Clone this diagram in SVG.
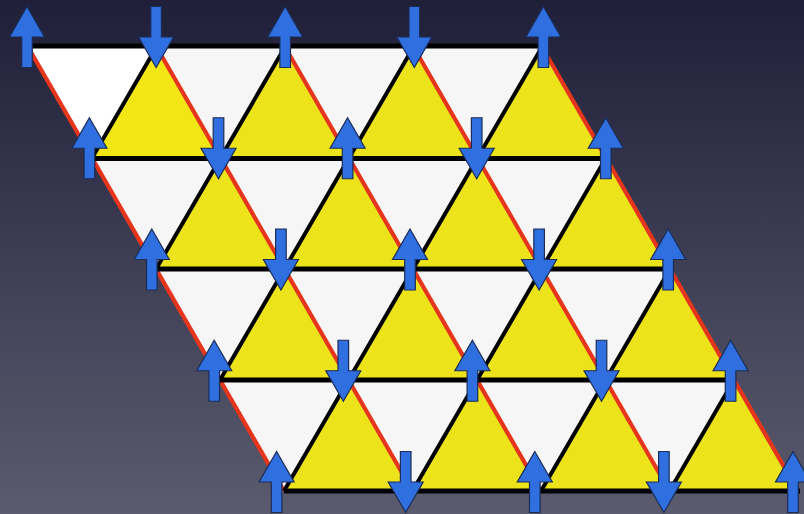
<svg xmlns="http://www.w3.org/2000/svg" width="804" height="514" viewBox="0 0 804 514">
<defs>
<linearGradient id="bg" x1="0" y1="0" x2="0" y2="1">
<stop offset="0" stop-color="#1f1f39"/>
<stop offset="1" stop-color="#5b5b6f"/>
</linearGradient>
<path id="up" d="M0,-30.5 L17.5,0 L5.3,0 L5.3,30.5 L-5.3,30.5 L-5.3,0 L-17.5,0 Z"/>
<style>
.yel{fill:#ede31a}
.red{stroke:#e5351d;stroke-width:4.2;fill:none}
.blk{stroke:#000;stroke-width:4;fill:none}
.hor{stroke:#000;stroke-width:4.8;fill:none}
.arr{fill:#2f6fe0;stroke:#1b2d58;stroke-width:1.2}
</style>
</defs>
<rect id="background" width="804" height="514" fill="url(#bg)"/>
<g id="lattice">
<polygon points="28,47 542,47 798,491 284,491" fill="#f6f6f6"/>
<polygon points="28,47 156.5,47 92,158" fill="#ffffff"/>
<g id="up-triangles" class="yel">
<polygon points="156.5,47 92,158 220.5,158" fill="#f2e615"/>
<polygon points="285,47 220.5,158 349,158"/>
<polygon points="413.5,47 349,158 477.5,158"/>
<polygon points="542,47 477.5,158 606,158"/>
<polygon points="220.5,158 156,269 284.5,269"/>
<polygon points="349,158 284.5,269 413,269"/>
<polygon points="477.5,158 413,269 541.5,269"/>
<polygon points="606,158 541.5,269 670,269"/>
<polygon points="284.5,269 220,380 348.5,380"/>
<polygon points="413,269 348.5,380 477,380"/>
<polygon points="541.5,269 477,380 605.5,380"/>
<polygon points="670,269 605.5,380 734,380"/>
<polygon points="348.5,380 284,491 412.5,491"/>
<polygon points="477,380 412.5,491 541,491"/>
<polygon points="605.5,380 541,491 669.5,491"/>
<polygon points="734,380 669.5,491 798,491"/>
</g>
</g>
<g id="connectors">
<g class="red">
<line x1="28" y1="47" x2="284" y2="491"/>
<line x1="156.5" y1="47" x2="412.5" y2="491"/>
<line x1="285" y1="47" x2="541" y2="491"/>
<line x1="413.5" y1="47" x2="669.5" y2="491"/>
<line x1="542" y1="47" x2="798" y2="491"/>
</g>
<g class="blk">
<line x1="156.5" y1="47" x2="92" y2="158"/>
<line x1="285" y1="47" x2="156" y2="269"/>
<line x1="413.5" y1="47" x2="220" y2="380"/>
<line x1="542" y1="47" x2="284" y2="491"/>
<line x1="606" y1="158" x2="412.5" y2="491"/>
<line x1="670" y1="269" x2="541" y2="491"/>
<line x1="734" y1="380" x2="669.5" y2="491"/>
</g>
<g class="hor">
<line x1="30" y1="46" x2="540" y2="46"/>
<line x1="92" y1="158.5" x2="604" y2="158.5"/>
<line x1="156" y1="269" x2="668" y2="269"/>
<line x1="220" y1="380" x2="732" y2="380"/>
<line x1="284" y1="491" x2="800" y2="491"/>
</g>
</g>
<g id="spins" class="arr">
<use href="#up" transform="translate(27,37)"/>
<use href="#up" transform="translate(156.1,37) rotate(180)"/>
<use href="#up" transform="translate(285.2,37)"/>
<use href="#up" transform="translate(414.3,37) rotate(180)"/>
<use href="#up" transform="translate(543.4,37)"/>
<use href="#up" transform="translate(89.4,148.25)"/>
<use href="#up" transform="translate(218.5,148.25) rotate(180)"/>
<use href="#up" transform="translate(347.6,148.25)"/>
<use href="#up" transform="translate(476.7,148.25) rotate(180)"/>
<use href="#up" transform="translate(605.8,148.25)"/>
<use href="#up" transform="translate(151.8,259.5)"/>
<use href="#up" transform="translate(280.9,259.5) rotate(180)"/>
<use href="#up" transform="translate(410,259.5)"/>
<use href="#up" transform="translate(539.1,259.5) rotate(180)"/>
<use href="#up" transform="translate(668.2,259.5)"/>
<use href="#up" transform="translate(214.2,370.75)"/>
<use href="#up" transform="translate(343.3,370.75) rotate(180)"/>
<use href="#up" transform="translate(472.4,370.75)"/>
<use href="#up" transform="translate(601.5,370.75) rotate(180)"/>
<use href="#up" transform="translate(730.6,370.75)"/>
<use href="#up" transform="translate(276.6,482)"/>
<use href="#up" transform="translate(405.7,482) rotate(180)"/>
<use href="#up" transform="translate(534.8,482)"/>
<use href="#up" transform="translate(663.9,482) rotate(180)"/>
<use href="#up" transform="translate(793,482)"/>
</g>
</svg>
